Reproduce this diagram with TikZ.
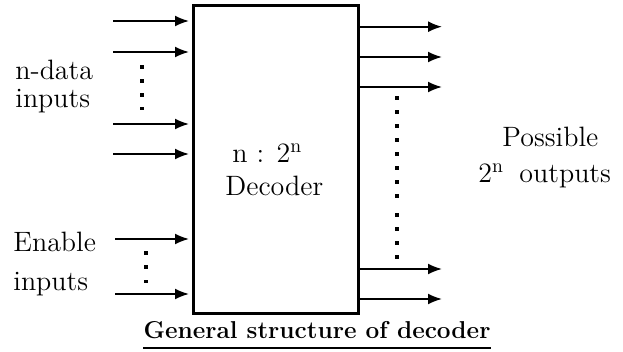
\documentclass[tikz,border=0pt]{standalone}
\usepackage{tikz}
\usetikzlibrary{positioning,calc}
\usetikzlibrary{arrows.meta}
\tikzset{
  blk/.style={draw=black,line width=1.5pt,minimum width=82.5pt,minimum height=154.25pt,inner sep=0pt},
  wire/.style={draw=black,line width=0.9pt,-{Latex[length=7pt,width=5.5pt]}},
  lbl/.style={font=\fontsize{14}{17}\selectfont,inner sep=0pt,anchor=base west},
  dot/.style={fill=black,inner sep=0pt,minimum size=1.9pt},
  ttl/.style={font=\fontsize{12.2}{14}\selectfont\bfseries,inner sep=0pt,anchor=base},
}

\begin{document}
\begin{tikzpicture}[x=0.5pt,y=-0.5pt]
\useasboundingbox (0,0) rectangle (623,352);
\node[blk] (dec) at (276,159.75) {};
% inputs
\foreach \n/\x/\y in {d1/113/21,d2/113/52,d3/113/124,d4/113/154,e1/115/239,e2/115/294}
  \coordinate (\n) at (\x,\y);
\foreach \n in {d1,d2,d3,d4,e1,e2} \draw[wire,shorten >=1.5pt] (\n) -- (\n -| dec.west);
% outputs
\foreach \n/\y in {o1/26.7,o2/57,o3/87,o4/269,o5/299}
  \coordinate (\n) at (442,\y);
\foreach \n in {o1,o2,o3,o4,o5} \draw[wire] (\n -| dec.east) -- (\n);
% dots
\foreach \y in {66.7,80.7,94.7,108.5} \node[dot] at (142.3,\y) {};
\foreach \y in {252.7,267,281.5} \node[dot] at (146,\y) {};
\foreach \y in {98.3,112.3,126.3,140.3,154.3,168.3,182.3,196.3,214.7,228.7,242.7,256.7}
  \node[dot] at (396.7,\y) {};
% labels
\node[lbl] (ndata) at (15,80) {n-data};
\node[lbl] (dinp) at (15,108) {inputs};
\node[lbl] (enab) at (13,252) {Enable};
\node[lbl] (einp) at (13,291) {inputs};
\node[lbl] (ratio) at (232,163) {n : 2\textsuperscript{n}};
\node[lbl] (dname) at (225,196) {Decoder};
\node[lbl] (poss) at (502,147) {Possible};
\node[lbl] (outs) at (478,183) {2\textsuperscript{n}\hspace{0.55em}outputs};
\node[ttl] (title) at (317,339) {General structure of decoder};
\draw[line width=1pt] ($(title.base west)+(0,9)$) -- ($(title.base east)+(0,9)$);
\end{tikzpicture}
\end{document}
